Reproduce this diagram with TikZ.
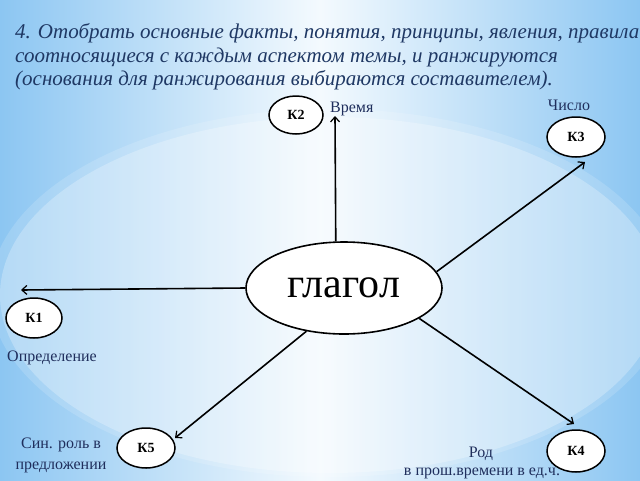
\documentclass[tikz,border=0pt]{standalone}
\usepackage{fontspec}
\setmainfont{Liberation Serif}
\usetikzlibrary{shapes.geometric,arrows.meta}
\definecolor{bgblue}{HTML}{8CC6F2}
\definecolor{bgmid}{HTML}{F4FAFE}
\definecolor{titlecol}{HTML}{1F3864}
\definecolor{labcol}{HTML}{1F2E5C}
\tikzset{
  small/.style={draw=black, line width=1.5pt, fill=white, ellipse, inner sep=0pt, font=\bfseries\fontsize{14}{16}\selectfont},
  big/.style={draw=black, line width=1.6pt, fill=white, ellipse, inner sep=0pt, minimum width=196pt, minimum height=92pt, font=\fontsize{42}{46}\selectfont},
  conn/.style={line width=1.6pt, -{Straight Barb[length=5pt,width=9pt,line width=1.2pt]}},
  lab/.style={text=labcol, inner sep=0pt, font=\fontsize{16}{19}\selectfont, anchor=base},
  ttl/.style={text=titlecol, inner sep=0pt, anchor=base west, font=\itshape\fontsize{21}{24}\selectfont}
}
\begin{document}
\begin{tikzpicture}[x=1pt,y=-1pt]
\useasboundingbox (0,0) rectangle (640,480);
\fill[left color=bgblue, right color=bgblue, middle color=bgmid] (0,0) rectangle (640,480);
\fill[white, fill opacity=0.15] (330,293) ellipse [x radius=340, y radius=184];
\fill[white, fill opacity=0.25] (330,295) ellipse [x radius=330, y radius=178];
\clip (0,0) rectangle (640,480);
\node[ttl] (t1) at (15,38) {4. Отобрать основные факты, понятия, принципы, явления, правила};
\node[ttl] (t2) at (15,62) {соотносящиеся с каждым аспектом темы, и ранжируются};
\node[ttl] (t3) at (15,85) {(основания для ранжирования выбираются составителем).};
\node[big] (c) at (344,288) {глагол};
\node[small, minimum width=54pt, minimum height=38pt] (k2) at (296,115) {К2};
\node[small, minimum width=58pt, minimum height=40pt] (k3) at (576,137) {К3};
\node[small, minimum width=56pt, minimum height=40pt] (k1) at (34,318) {К1};
\node[small, minimum width=58pt, minimum height=40pt] (k5) at (146,448) {К5};
\node[small, minimum width=58pt, minimum height=42pt] (k4) at (576,451) {К4};
\coordinate (e2) at (335,116);
\coordinate (e3) at (585,162);
\coordinate (e1) at (21,290);
\coordinate (e5) at (175,438);
\coordinate (e4) at (574,424);
\draw[conn] (c.100) -- (e2);
\draw[conn] (c.10) -- (e3);
\draw[conn] (c.180) -- (e1);
\draw[conn] (c.-131) -- (e5);
\draw[conn] (c.-22) -- (e4);
\node[lab, anchor=base west] (l2) at (330,112) {Время};
\node[lab] (l3) at (569,110) {Число};
\node[lab] (l1) at (52,361) {Определение};
\node[lab] (l5a) at (61,448) {Син. роль в};
\node[lab] (l5b) at (61,469) {предложении};
\node[lab] (l4a) at (481,457) {Род};
\node[lab] (l4b) at (482,475) {в прош.времени в ед.ч.};
\end{tikzpicture}
\end{document}
